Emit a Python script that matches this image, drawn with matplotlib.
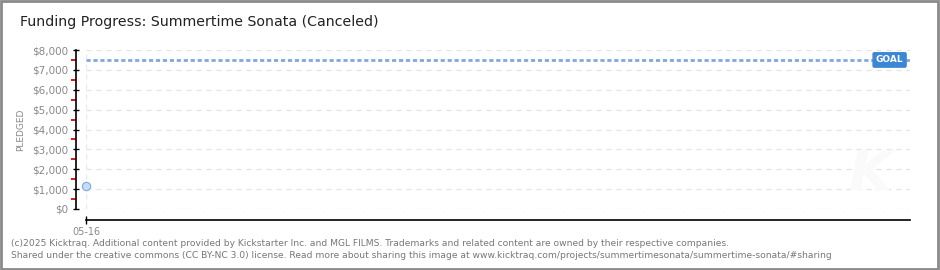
import matplotlib
matplotlib.use("Agg")
import matplotlib.pyplot as plt
from matplotlib.patches import Rectangle
from matplotlib.ticker import FuncFormatter, MultipleLocator

dates = ["05-16"]
pledged = [1180]
goal = 7500
yticks = [0, 1000, 2000, 3000, 4000, 5000, 6000, 7000, 8000]

fig = plt.figure(figsize=(9.4, 2.7), dpi=100)
fig.patch.set_facecolor("white")
ax = fig.add_axes([86/940, 1-209/270, (910-86)/940, (209-50)/270])

ax.set_xlim(0, 100)
ax.set_ylim(0, 8000)

xs = list(range(len(dates)))
# grid
for v in yticks:
    ax.axhline(v, color="#e3e3e3", lw=0.9, ls=(0, (4, 4)), zorder=1)
for x in xs:
    ax.axvline(x, color="#e4e7f3", lw=0.9, ls=(0, (4, 4)), zorder=1)

# goal line
ax.axhline(goal, color="#7fa9d9", lw=2, ls=(0, (1.5, 1)), zorder=2)
ax.text(0.992, goal, "GOAL", transform=ax.get_yaxis_transform(), ha="right", va="center",
        color="white", fontsize=6.5, fontweight="bold", family="DejaVu Sans",
        bbox=dict(boxstyle="round,pad=0.3,rounding_size=0.15", fc="#3b87d6", ec="#3b87d6"), zorder=4)

# data
ax.plot(xs, pledged, "o", ms=6, mfc="#c5dcf5", mec="#7fa9d9", mew=0.8, zorder=5, clip_on=False)

# spines
for s in ["top", "right"]:
    ax.spines[s].set_visible(False)
ax.spines["left"].set_position(("outward", 7.2))
ax.spines["bottom"].set_position(("outward", 7.9))
ax.spines["left"].set_color("black")
ax.spines["bottom"].set_color("black")
ax.spines["left"].set_linewidth(1.2)
ax.spines["bottom"].set_linewidth(1.2)

ax.set_yticks(yticks)
ax.yaxis.set_major_formatter(FuncFormatter(lambda v, p: "${:,.0f}".format(v)))
ax.yaxis.set_minor_locator(MultipleLocator(500))
ax.tick_params(axis="y", which="major", direction="inout", length=5, width=1, color="black",
               labelsize=7.5, labelcolor="#888888", pad=3)
ax.tick_params(axis="y", which="minor", direction="out", length=3.5, width=1.3, color="#e00000")
ax.set_xticks(xs)
ax.set_xticklabels(dates)
ax.tick_params(axis="x", which="major", direction="inout", length=6, width=1, color="black",
               labelsize=7, labelcolor="#888888", pad=2)

ax.set_ylabel("PLEDGED", fontsize=6.5, color="#888888", labelpad=5)

fig.text(20/940, 1-22/270, "Funding Progress: Summertime Sonata (Canceled)", fontsize=10.2,
         color="#222222", va="center", ha="left")
fig.text(11/940, 1-243/270,
         "(c)2025 Kicktraq. Additional content provided by Kickstarter Inc. and MGL FILMS. Trademarks and related content are owned by their respective companies.",
         fontsize=6.6, color="#777777", va="center", ha="left")
fig.text(11/940, 1-255/270,
         "Shared under the creative commons (CC BY-NC 3.0) license. Read more about sharing this image at www.kicktraq.com/projects/summertimesonata/summertime-sonata/#sharing",
         fontsize=6.6, color="#777777", va="center", ha="left")

fig.text(870/940, 1-175/270, "K", fontsize=40, color="#fafafa", style="italic",
         fontweight="bold", ha="center", va="center", zorder=0)

fig.patches.append(Rectangle((0.001, 0.002), 0.997, 0.996, transform=fig.transFigure,
                             fill=False, ec="#8a8a8a", lw=2))

fig.savefig("out.png", dpi=100, facecolor="white")
